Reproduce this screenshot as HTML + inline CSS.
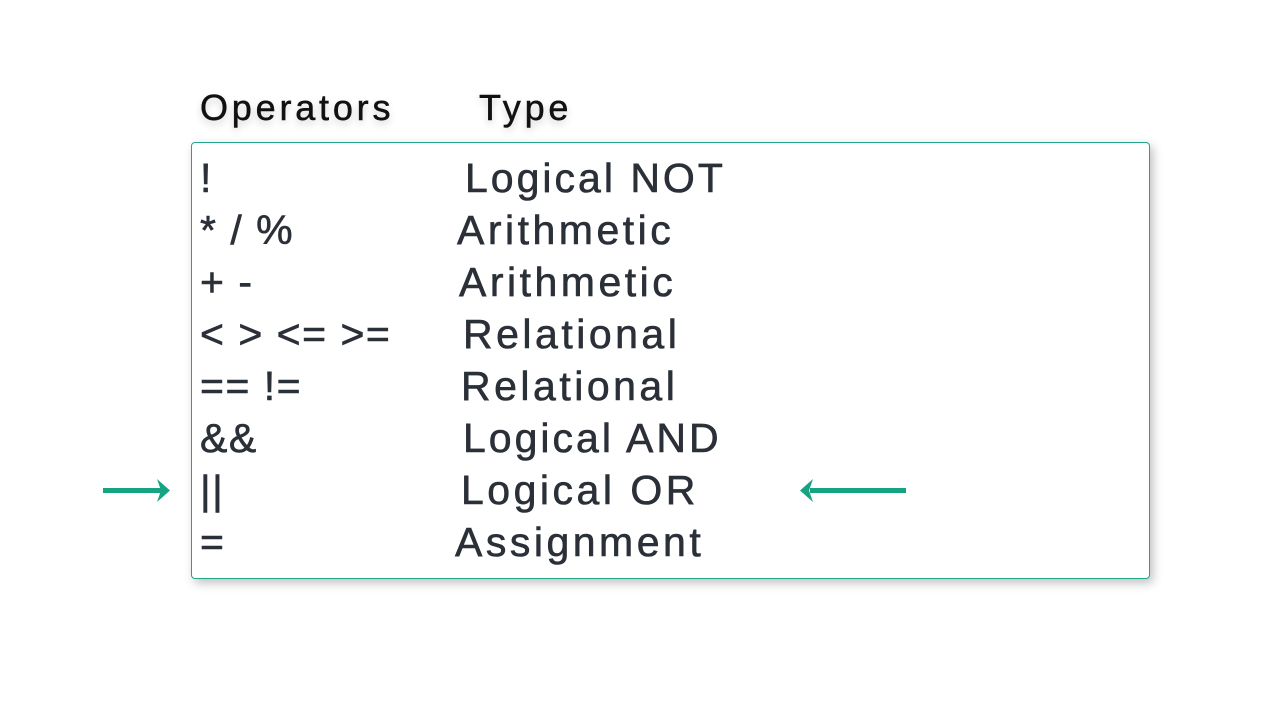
<!DOCTYPE html>
<html><head><style>
body{margin:0;width:1280px;height:720px;background:#fff;position:relative;overflow:hidden;font-family:"Liberation Sans",sans-serif;}
.t{position:absolute;white-space:nowrap;color:#2b3038;font-size:41px;line-height:52px;letter-spacing:3.5px;-webkit-text-stroke:0.6px #2b3038;}
.o{letter-spacing:1.5px;}
.h{position:absolute;white-space:nowrap;color:#111;font-size:36px;line-height:44px;letter-spacing:3.8px;-webkit-text-stroke:0.5px #111;text-shadow:0 4px 8px rgba(0,0,0,0.2);}
.box{position:absolute;left:191px;top:142px;width:957px;height:435px;border:1.5px solid #1fa58a;border-radius:4px;box-shadow:3px 4px 10px rgba(0,0,0,0.25);background:#fff;}
</style></head><body>
<div class="h" style="left:200px;top:86px">Operators</div>
<div class="h" style="left:479px;top:86px">Type</div>
<div class="box"></div>
<div class="t o" style="left:200px;top:152px">!</div><div class="t" style="left:465px;top:152px;letter-spacing:3px">Logical NOT</div>
<div class="t o" style="left:200px;top:204px">* / %</div><div class="t" style="left:457px;top:204px">Arithmetic</div>
<div class="t o" style="left:200px;top:256px">+ -</div><div class="t" style="left:459px;top:256px">Arithmetic</div>
<div class="t o" style="left:200px;top:308px">&lt; &gt; &lt;= &gt;=</div><div class="t" style="left:463px;top:308px">Relational</div>
<div class="t o" style="left:200px;top:360px">== !=</div><div class="t" style="left:461px;top:360px">Relational</div>
<div class="t o" style="left:200px;top:412px">&amp;&amp;</div><div class="t" style="left:463px;top:412px;letter-spacing:3px">Logical AND</div>
<div class="t o" style="left:200px;top:464px">||</div><div class="t" style="left:461px;top:464px">Logical OR</div>
<div class="t o" style="left:200px;top:516px">=</div><div class="t" style="left:455px;top:516px">Assignment</div>
<svg width="1280" height="720" style="position:absolute;left:0;top:0">
<g fill="#16a382" stroke="none">
<rect x="103" y="488" width="60" height="5"/>
<polygon points="170,490.5 157,479 161,490.5 157,502"/>
<rect x="810" y="488" width="96" height="5"/>
<polygon points="800,490.5 813,479 809,490.5 813,502"/>
</g>
</svg>
</body></html>
